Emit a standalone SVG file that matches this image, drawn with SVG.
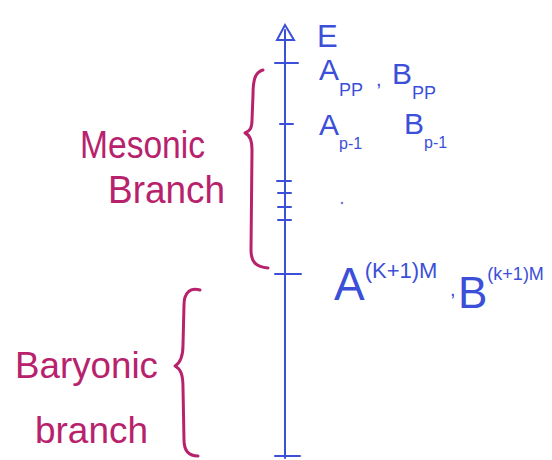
<svg xmlns="http://www.w3.org/2000/svg" width="552" height="460" viewBox="0 0 552 460">
<style>
.ax{stroke:#3b4fd8;stroke-width:2;fill:none;stroke-linecap:round}
.br{stroke:#b8226c;stroke-width:3;fill:none;stroke-linecap:round;stroke-linejoin:round}
.bt{fill:#3b4fd8;font-family:"Liberation Sans",Arial,sans-serif}
.mt{fill:#b8226c;font-family:"Liberation Sans",Arial,sans-serif}
</style>
<rect width="552" height="460" fill="#ffffff"/>
<g id="connectors">
<g id="axis">
<line class="ax" x1="285" y1="30" x2="285" y2="458"/>
<path class="ax" d="M285,25 L277,40 L294,40 Z"/>
<line class="ax" x1="275" y1="63" x2="298" y2="63"/>
<line class="ax" x1="280" y1="124" x2="293" y2="124"/>
<line class="ax" x1="277" y1="181" x2="291" y2="181"/>
<line class="ax" x1="278" y1="193" x2="291" y2="193"/>
<line class="ax" x1="278" y1="207" x2="291" y2="207"/>
<line class="ax" x1="278" y1="220" x2="291" y2="220"/>
<line class="ax" x1="275" y1="274" x2="301" y2="274"/>
<line class="ax" x1="275" y1="456" x2="300" y2="456"/>
</g>
</g>
<g id="label-E"><text class="bt" x="317" y="47" font-size="31">E</text></g>
<g id="label-pp">
<text class="bt" x="319" y="80" font-size="30">A<tspan font-size="18" dy="16">PP</tspan></text>
<text class="bt" x="376" y="86" font-size="20">,</text>
<text class="bt" x="392" y="84" font-size="30">B<tspan font-size="18" dy="15">PP</tspan></text>
</g>
<g id="label-p1">
<text class="bt" x="319" y="135" font-size="30">A<tspan font-size="16" dy="14">p-1</tspan></text>
<text class="bt" x="404" y="134" font-size="30">B<tspan font-size="16" dy="14">p-1</tspan></text>
</g>
<circle cx="342" cy="203" r="1.3" fill="#7080d8"/>
<g id="label-km">
<text class="bt" x="334" y="300" font-size="46">A<tspan font-size="22" dy="-22">(K+1)M</tspan></text>
<text class="bt" x="450" y="296" font-size="20">,</text>
<text class="bt" x="458" y="308" font-size="44">B<tspan font-size="18" dy="-28">(k+1)M</tspan></text>
</g>
<g id="mesonic-branch">
<path class="br" d="M263,70 C255,72 253,80 253,95 L252,120 C252,128 250,131 245,133 C250,135 252,140 252,150 L251,250 C251,262 256,267 268,268"/>
<text class="mt" x="80" y="158" font-size="38" textLength="125" lengthAdjust="spacingAndGlyphs">Mesonic</text>
<text class="mt" x="108" y="203" font-size="38" textLength="117" lengthAdjust="spacingAndGlyphs">Branch</text>
</g>
<g id="baryonic-branch">
<path class="br" d="M200,290 C190,287 184,293 184,305 L183,345 C183,358 180,363 175,366 C181,369 183,375 183,388 L184,440 C184,452 190,456 198,456"/>
<text class="mt" x="15" y="378" font-size="36" textLength="143" lengthAdjust="spacingAndGlyphs">Baryonic</text>
<text class="mt" x="35" y="443" font-size="36" textLength="113" lengthAdjust="spacingAndGlyphs">branch</text>
</g>
</svg>
